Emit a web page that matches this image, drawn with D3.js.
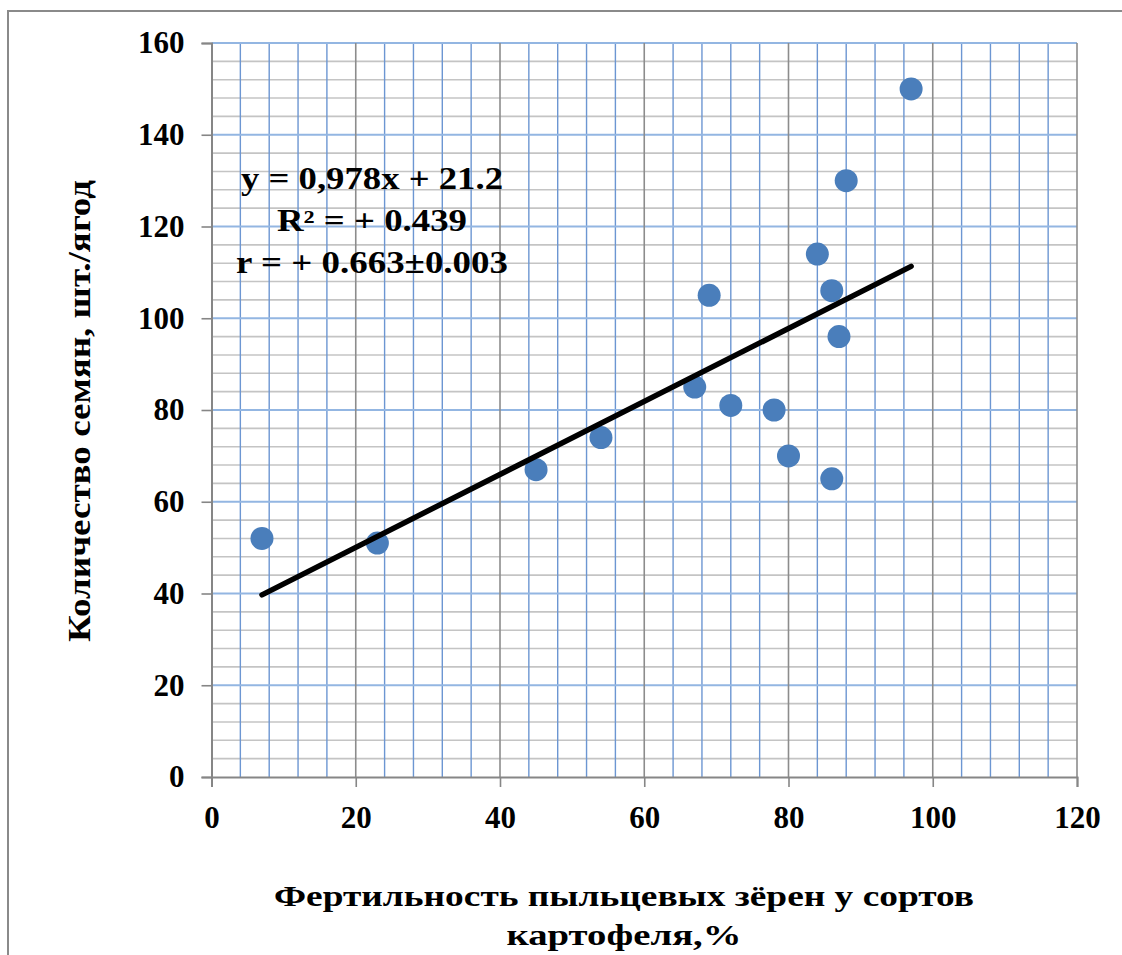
<!DOCTYPE html>
<html>
<head>
<meta charset="utf-8">
<script src="https://cdn.jsdelivr.net/npm/d3@7"></script>
<style>
  body { margin: 0; background: #fff; }
  svg text { font-family: "Liberation Serif", "Times New Roman", Times, serif; font-weight: bold; fill: #000; }
</style>
</head>
<body>
<svg width="1122" height="955"></svg>
<script>
// fertility of pollen (%) vs seed count
var fertility = [7, 23, 45, 54, 67, 69, 72, 78, 80, 84, 86, 86, 87, 88, 97];
var seeds     = [52, 51, 67, 74, 85, 105, 81, 80, 70, 114, 106, 65, 96, 130, 150];
var xTicks = [0, 20, 40, 60, 80, 100, 120];
var yTicks = [0, 20, 40, 60, 80, 100, 120, 140, 160];
var eqLines = ["y = 0,978x + 21.2", "R² = + 0.439", "r = + 0.663±0.003"];
var xTitle = ["Фертильность пыльцевых зёрен у сортов", "картофеля,%"];
var yTitle = "Количество семян, шт./ягод";

// widths of the text lines as in the original (times font is not here)
var eqWidth = [262, 190, 272];
var xTitleWidth = [700, 235];

var svg = d3.select("svg");

// outer chart frame
svg.append("rect")
  .attr("x", 8).attr("y", 11)
  .attr("width", 1130).attr("height", 960)
  .attr("fill", "none")
  .attr("stroke", "#8a8a8a")
  .attr("stroke-width", 2);

var x = d3.scaleLinear().domain([0, 120]).range([211.5, 1077]);
var y = d3.scaleLinear().domain([0, 160]).range([777, 43]);

var minorX = d3.range(4, 120, 4).filter(function (v) { return v % 20 != 0; });
var minorY = d3.range(4, 160, 4).filter(function (v) { return v % 20 != 0; });

// minor horizontal - gray
svg.selectAll(".hmin").data(minorY).enter().append("line")
  .attr("x1", x(0)).attr("x2", x(120))
  .attr("y1", function (d) { return y(d); }).attr("y2", function (d) { return y(d); })
  .attr("stroke", "#c4c4c4").attr("stroke-width", 1.6);

// minor vertical - blue
svg.selectAll(".vmin").data(minorX).enter().append("line")
  .attr("y1", y(0)).attr("y2", y(160))
  .attr("x1", function (d) { return x(d); }).attr("x2", function (d) { return x(d); })
  .attr("stroke", "#6c96d2").attr("stroke-width", 1.4);

// major horizontal - light blue
svg.selectAll(".hmaj").data(yTicks.slice(1)).enter().append("line")
  .attr("x1", x(0)).attr("x2", x(120))
  .attr("y1", function (d) { return y(d); }).attr("y2", function (d) { return y(d); })
  .attr("stroke", "#93b6e2").attr("stroke-width", 2.2);

// major vertical - gray
svg.selectAll(".vmaj").data(xTicks.slice(1)).enter().append("line")
  .attr("y1", y(0)).attr("y2", y(160))
  .attr("x1", function (d) { return x(d); }).attr("x2", function (d) { return x(d); })
  .attr("stroke", "#8c8c8c").attr("stroke-width", 1.6);

// axes
var xAxis = svg.append("g")
  .attr("transform", "translate(0," + y(0) + ")")
  .call(d3.axisBottom(x).tickValues(xTicks).tickSize(10).tickPadding(15));
var yAxis = svg.append("g")
  .attr("transform", "translate(" + x(0) + ",0)")
  .call(d3.axisLeft(y).tickValues(yTicks).tickSize(10).tickPadding(17));

[xAxis, yAxis].forEach(function (g) {
  g.attr("font-family", null).attr("font-size", null);
  g.select(".domain").attr("stroke", "#868686").attr("stroke-width", 2);
  g.selectAll(".tick line").attr("stroke", "#868686").attr("stroke-width", 1.6);
  g.selectAll(".tick text")
    .style("font-size", "31px")
    .attr("fill", "#000");
});
xAxis.selectAll(".tick text").attr("dy", "0.85em");

// points
svg.selectAll(".pt").data(fertility).enter().append("circle")
  .attr("cx", function (d) { return x(d); })
  .attr("cy", function (d, i) { return y(seeds[i]); })
  .attr("r", 11.5)
  .attr("fill", "#4a7ebb");

// linear trend computed from the points
var mx = d3.mean(fertility), my = d3.mean(seeds);
var sxy = d3.sum(fertility, function (d, i) { return (d - mx) * (seeds[i] - my); });
var sxx = d3.sum(fertility, function (d) { return (d - mx) * (d - mx); });
var slope = sxy / sxx, icpt = my - slope * mx;
var ext = d3.extent(fertility);
svg.append("path")
  .datum(ext)
  .attr("d", d3.line()
    .x(function (d) { return x(d); })
    .y(function (d) { return y(icpt + slope * d); }))
  .attr("stroke", "#000")
  .attr("stroke-width", 5.5)
  .attr("stroke-linecap", "round")
  .attr("fill", "none");

// equation box
svg.selectAll(".eq").data(eqLines).enter().append("text")
  .attr("x", 372)
  .attr("y", function (d, i) { return 189 + i * 42; })
  .attr("text-anchor", "middle")
  .attr("textLength", function (d, i) { return eqWidth[i]; })
  .attr("lengthAdjust", "spacingAndGlyphs")
  .style("font-size", "31px")
  .text(function (d) { return d; });

// axis titles
svg.selectAll(".xt").data(xTitle).enter().append("text")
  .attr("x", 624)
  .attr("y", function (d, i) { return 906 + i * 39; })
  .attr("text-anchor", "middle")
  .attr("textLength", function (d, i) { return xTitleWidth[i]; })
  .attr("lengthAdjust", "spacingAndGlyphs")
  .style("font-size", "30px")
  .text(function (d) { return d; });

svg.append("text")
  .attr("transform", "translate(90,411) rotate(-90)")
  .attr("text-anchor", "middle")
  .attr("textLength", 462)
  .attr("lengthAdjust", "spacingAndGlyphs")
  .style("font-size", "31px")
  .text(yTitle);
</script>
</body>
</html>
